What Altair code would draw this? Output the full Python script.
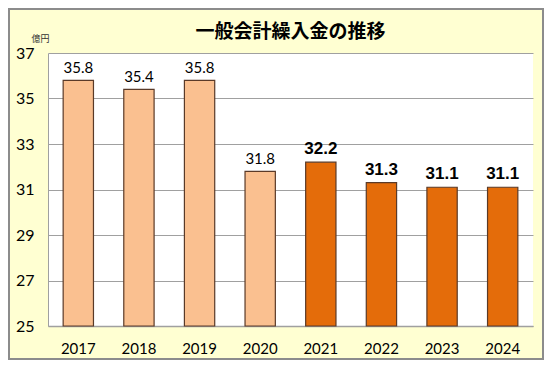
import altair as alt
import pandas as pd

years = ["2017", "2018", "2019", "2020", "2021", "2022", "2023", "2024"]
values = [35.8, 35.4, 35.8, 31.8, 32.2, 31.3, 31.1, 31.1]
kind = ["past", "past", "past", "past", "recent", "recent", "recent", "recent"]
y_ticks = [25, 27, 29, 31, 33, 35, 37]

df = pd.DataFrame({"year": years, "value": values, "kind": kind})
df["label"] = df["value"].map(lambda v: f"{v:.1f}")

W, H = 485, 273
PAD = {"left": 40, "top": 45, "right": 11, "bottom": 34}
BG = "#FFFFD2"

x_enc = alt.X("year:N", sort=years,
              scale=alt.Scale(paddingInner=0.5, paddingOuter=0.25),
              axis=alt.Axis(title=None, labelAngle=0, labelFontSize=15,
                            labelFont="Lato", labelColor="#000000",
                            labelPadding=15, tickSize=0,
                            domainColor="#a0a0a0", domainWidth=1.5))
y_scale = alt.Scale(domain=[25, 37], zero=False, nice=False)
y_enc = alt.Y("value:Q", scale=y_scale,
              axis=alt.Axis(title="億円", titleAngle=0, titleX=-8, titleY=-15,
                            titleAlign="center", titleBaseline="middle",
                            titleFontSize=9, titleFont="Noto Sans CJK JP",
                            titleFontWeight="normal", titleColor="#333333",
                            values=y_ticks, labelFontSize=16, labelFont="Lato",
                            labelColor="#000000", labelPadding=14, tickSize=0,
                            grid=True, gridColor="#a0a0a0", gridWidth=1.2,
                            domainColor="#a0a0a0"))

base = alt.Chart(df)

bars = base.mark_bar(stroke="#5a3a28", strokeWidth=1.2).encode(
    x=x_enc,
    y=y_enc,
    y2=alt.datum(25),
    color=alt.Color("kind:N",
                    scale=alt.Scale(domain=["past", "recent"],
                                    range=["#FAC090", "#E46C0A"]),
                    legend=None),
)

txt_past = base.transform_filter(alt.datum.kind == "past").mark_text(
    baseline="bottom", dy=-4, fontSize=15, font="Lato", color="#000000"
).encode(x=alt.X("year:N", sort=years), y=alt.Y("value:Q", scale=y_scale), text="label:N")

txt_recent = base.transform_filter(alt.datum.kind == "recent").mark_text(
    baseline="bottom", dy=-4, fontSize=17, font="Liberation Sans",
    fontWeight="bold", color="#000000"
).encode(x=alt.X("year:N", sort=years), y=alt.Y("value:Q", scale=y_scale), text="label:N")

border = base.mark_rect(fill=None, stroke="#8c8c8c", strokeWidth=2, clip=False).encode(
    x=alt.value(-39), x2=alt.value(W + PAD["right"] - 1),
    y=alt.value(-44), y2=alt.value(H + PAD["bottom"] - 1),
)

chart = alt.layer(bars, txt_past, txt_recent, border).properties(
    width=W, height=H,
    padding=PAD,
    autosize=alt.AutoSizeParams(type="none"),
    background=BG,
    title=alt.Title("一般会計繰入金の推移", anchor="middle", fontSize=19,
                    font="Noto Sans CJK JP", fontWeight="bold", color="#000000",
                    offset=-34),
).configure_view(stroke=None, fill="#FFFFFF")

chart.save("out.html", embed_options={"renderer": "svg", "actions": False})
